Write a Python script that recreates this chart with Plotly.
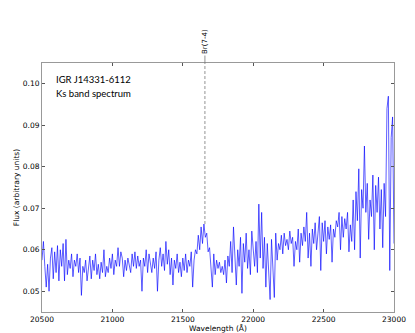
import numpy as np
import plotly.graph_objects as go

# wavelength grid (Angstrom), 10 A steps
wavelength = list(range(20500, 23001, 10))

# flux, one row per 100 A
flux = [
    0.0575, 0.0620, 0.0560, 0.0510, 0.0565, 0.0500, 0.0580, 0.0605, 0.0530, 0.0595,
    0.0545, 0.0610, 0.0525, 0.0600, 0.0560, 0.0615, 0.0525, 0.0625, 0.0540, 0.0575,
    0.0555, 0.0590, 0.0535, 0.0575, 0.0560, 0.0590, 0.0545, 0.0580, 0.0490, 0.0560,
    0.0545, 0.0575, 0.0525, 0.0555, 0.0585, 0.0530, 0.0575, 0.0550, 0.0590, 0.0540,
    0.0565, 0.0530, 0.0570, 0.0545, 0.0600, 0.0535, 0.0560, 0.0545, 0.0580, 0.0555,
    0.0590, 0.0540, 0.0575, 0.0560, 0.0605, 0.0560, 0.0595, 0.0580, 0.0535, 0.0575,
    0.0550, 0.0580, 0.0560, 0.0545, 0.0590, 0.0560, 0.0595, 0.0555, 0.0585, 0.0560,
    0.0575, 0.0500, 0.0580, 0.0560, 0.0600, 0.0545, 0.0590, 0.0565, 0.0545, 0.0580,
    0.0555, 0.0595, 0.0500, 0.0575, 0.0605, 0.0560, 0.0590, 0.0550, 0.0620, 0.0565,
    0.0600, 0.0540, 0.0580, 0.0515, 0.0575, 0.0555, 0.0590, 0.0545, 0.0570, 0.0535,
    0.0580, 0.0550, 0.0590, 0.0545, 0.0575, 0.0560, 0.0595, 0.0510, 0.0575, 0.0600,
    0.0590, 0.0635, 0.0600, 0.0655, 0.0615, 0.0662, 0.0630, 0.0640, 0.0595, 0.0605,
    0.0555, 0.0510, 0.0590, 0.0540, 0.0575, 0.0555, 0.0570, 0.0545, 0.0560, 0.0540,
    0.0575, 0.0520, 0.0585, 0.0560, 0.0620, 0.0545, 0.0655, 0.0590, 0.0515, 0.0600,
    0.0560, 0.0630, 0.0495, 0.0615, 0.0570, 0.0640, 0.0555, 0.0600, 0.0540, 0.0645,
    0.0600, 0.0560, 0.0620, 0.0545, 0.0710, 0.0580, 0.0690, 0.0555, 0.0630, 0.0510,
    0.0615, 0.0560, 0.0480, 0.0625, 0.0550, 0.0485, 0.0640, 0.0575, 0.0615, 0.0600,
    0.0635, 0.0590, 0.0640, 0.0610, 0.0625, 0.0600, 0.0645, 0.0615, 0.0630, 0.0560,
    0.0620, 0.0600, 0.0650, 0.0570, 0.0640, 0.0610, 0.0655, 0.0620, 0.0690, 0.0580,
    0.0640, 0.0560, 0.0650, 0.0615, 0.0665, 0.0600, 0.0640, 0.0680, 0.0550, 0.0665,
    0.0620, 0.0670, 0.0590, 0.0655, 0.0625, 0.0660, 0.0570, 0.0650, 0.0630, 0.0670,
    0.0655, 0.0690, 0.0600, 0.0680, 0.0630, 0.0675, 0.0650, 0.0690, 0.0595, 0.0660,
    0.0620, 0.0720, 0.0600, 0.0740, 0.0670, 0.0795, 0.0580, 0.0745, 0.0700, 0.0850,
    0.0690, 0.0760, 0.0625, 0.0720, 0.0680, 0.0780, 0.0600, 0.0755, 0.0690, 0.0775,
    0.0650, 0.0745, 0.0605, 0.0760, 0.0680, 0.0940, 0.0970, 0.0550, 0.0870, 0.0920,
    0.0615,
]

line_wl = 21657
line_label = "Br(7-4)"
label_lines = ["IGR J14331-6112", "Ks band spectrum"]

tick_font = dict(family="DejaVu Sans", size=7.5, color="black")

fig = go.Figure()
fig.add_trace(go.Scatter(x=wavelength, y=flux, mode="lines",
                         line=dict(color="rgba(0,0,255,0.8)", width=0.8),
                         showlegend=False))

# Br gamma marker: dashed inside the axes, solid stub above
fig.add_shape(type="line", xref="x", yref="y", x0=line_wl, x1=line_wl,
              y0=0.0662, y1=0.105, line=dict(color="#777", width=0.8, dash="3px,2px"))
fig.add_shape(type="line", xref="x", yref="paper", x0=line_wl, x1=line_wl,
              y0=1.0, y1=1.03, line=dict(color="#777", width=0.8))
fig.add_annotation(x=line_wl, y=1.03, xref="x", yref="paper", text=line_label,
                   textangle=-90, showarrow=False, yanchor="bottom", xanchor="center",
                   font=dict(family="DejaVu Sans", size=7, color="black"))

for i, txt in enumerate(label_lines):
    fig.add_annotation(x=0.033, y=0.933 - i * 0.057, xref="paper", yref="paper",
                       text=txt, showarrow=False, xanchor="left", yanchor="middle",
                       font=dict(family="Lato", size=9.5, color="black"))

axis_common = dict(showline=True, linecolor="#999", linewidth=1, mirror="ticks",
                   ticks="inside", ticklen=3, tickcolor="#555", showgrid=False,
                   zeroline=False, tickfont=tick_font, automargin=False)

fig.update_layout(
    width=415, height=333,
    margin=dict(l=42, r=21, t=63, b=21),
    paper_bgcolor="white", plot_bgcolor="white",
    xaxis=dict(range=[20500, 23000], dtick=500, tickformat="d",
               title=dict(text="Wavelength (Å)", font=tick_font, standoff=0),
               **axis_common),
    yaxis=dict(range=[0.045, 0.105], dtick=0.01, tick0=0.05, tickformat=".2f",
               title=dict(text="Flux (arbitrary units)", font=tick_font, standoff=2),
               **axis_common),
)

# drop the page's default body margin so the figure sits at the window corner
fig.write_html("out.html", config={"displayModeBar": False},
               post_script="document.body.style.margin='0';")
